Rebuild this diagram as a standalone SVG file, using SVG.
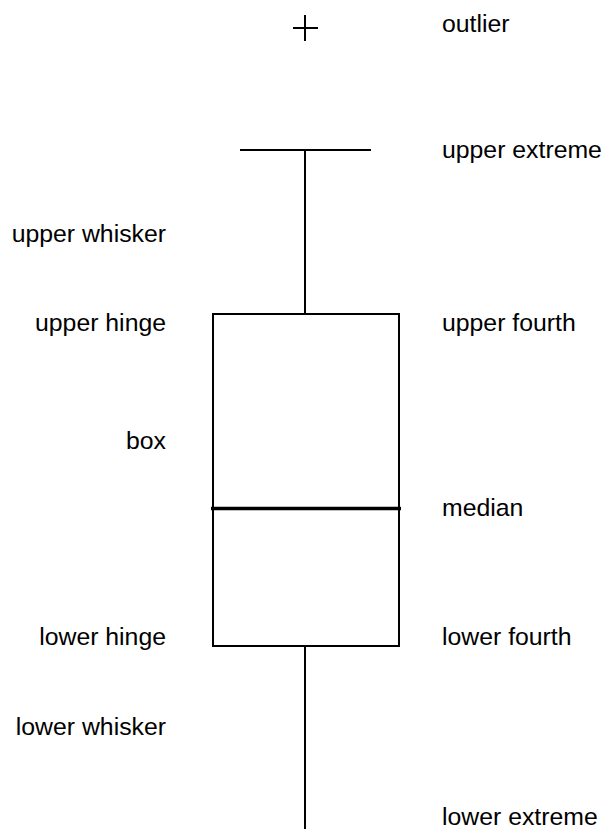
<svg xmlns="http://www.w3.org/2000/svg" width="603" height="829" viewBox="0 0 603 829">
<style>
text{font-family:"Liberation Sans",Arial,sans-serif;font-size:24.8px;fill:#000}
.l{text-anchor:end}
.s{stroke:#000;stroke-width:2;fill:none}
</style>
<rect width="603" height="829" fill="#fff"/>
<g id="connectors">
<line class="s" x1="305" y1="150" x2="305" y2="314"/>
<line class="s" x1="305" y1="646" x2="305" y2="829"/>
</g>
<g id="outlier"><path class="s" d="M293 28H318M305 15V41"/></g>
<g id="upper-extreme"><line class="s" x1="240" y1="150" x2="371" y2="150"/></g>
<g id="box"><rect class="s" x="213" y="314" width="186" height="332"/></g>
<g id="median"><line stroke="#000" stroke-width="3.5" x1="211" y1="508.5" x2="401" y2="508.5"/></g>
<g id="labels-right">
<text x="442" y="32">outlier</text>
<text x="442" y="158">upper extreme</text>
<text x="442" y="331">upper fourth</text>
<text x="442" y="516">median</text>
<text x="442" y="645">lower fourth</text>
<text x="442" y="825">lower extreme</text>
</g>
<g id="labels-left">
<text class="l" x="166" y="242">upper whisker</text>
<text class="l" x="166" y="331">upper hinge</text>
<text class="l" x="166" y="449">box</text>
<text class="l" x="166" y="645">lower hinge</text>
<text class="l" x="166" y="735">lower whisker</text>
</g>
</svg>
